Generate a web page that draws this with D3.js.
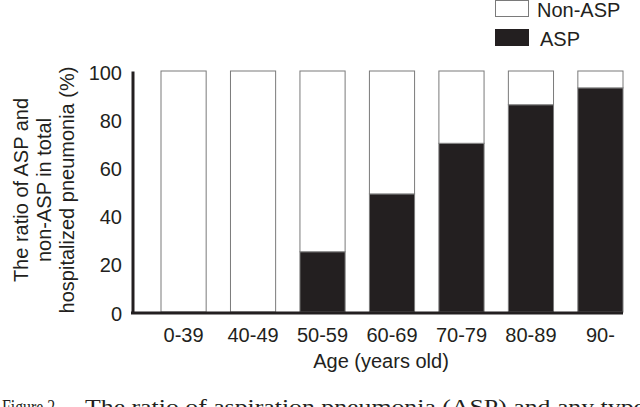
<!DOCTYPE html>
<html>
<head>
<meta charset="utf-8">
<script src="https://cdn.jsdelivr.net/npm/d3@7"></script>
<style>
  html, body { margin: 0; padding: 0; background: #fff; }
  svg { display: block; }
  text { font-family: "Liberation Sans", Arial, Helvetica, sans-serif; fill: #231f20; }
  text.serif { font-family: "Liberation Serif", "Times New Roman", serif; }
</style>
</head>
<body>
<svg id="chart" width="640" height="407"></svg>
<script>
const categories = ["0-39", "40-49", "50-59", "60-69", "70-79", "80-89", "90-"];
const aspValues = [0, 0, 25, 49, 70, 86, 93];
const nonAspValues = [100, 100, 75, 51, 30, 14, 7];
const yTicks = [0, 20, 40, 60, 80, 100];
const seriesNames = ["Non-ASP", "ASP"];
const yTitleLines = ["The ratio of ASP and", "non-ASP in total", "hospitalized pneumonia (%)"];
const xTitle = "Age (years old)";
const captionLabel = "Figure 2.";
const captionText = "The ratio of aspiration pneumonia (ASP) and any type";

const BLACK = "#231f20";
const EDGE = "#7a7a7a";

const svg = d3.select("#chart");

const axisX = 132.5;
const x = d3.scaleBand().domain(categories).range([161, 623]).paddingInner(0.35).paddingOuter(0);
const y = d3.scaleLinear().domain([0, 100]).range([312, 71]);

const rows = categories.map((c, i) => ({ cat: c, asp: aspValues[i], non: nonAspValues[i] }));
const stack = d3.stack().keys(["asp", "non"])(rows);

// bars
const g = svg.append("g");
g.selectAll("g.layer").data(stack).join("g")
  .attr("class", "layer")
  .attr("fill", d => d.key === "asp" ? BLACK : "#fff")
  .selectAll("rect").data(d => d.filter(p => p[1] - p[0] > 0)).join("rect")
  .attr("x", d => x(d.data.cat))
  .attr("width", x.bandwidth())
  .attr("y", d => y(d[1]))
  .attr("height", d => y(d[0]) - y(d[1]))
  .attr("stroke", EDGE)
  .attr("stroke-width", 1);

// y axis
const yAxis = svg.append("g")
  .attr("transform", `translate(${axisX},0)`)
  .call(d3.axisLeft(y).tickValues(yTicks).tickSize(0).tickSizeOuter(0).tickPadding(10.5));
yAxis.select(".domain").attr("stroke", BLACK).attr("stroke-width", 3);
yAxis.selectAll("text").attr("font-size", 20).attr("fill", BLACK).attr("dy", "0.4em");

// x axis
const xAxis = svg.append("g")
  .attr("transform", `translate(0,${y(0) + 1})`)
  .call(d3.axisBottom(x).tickSize(0).tickPadding(15));
xAxis.select(".domain").remove();
xAxis.selectAll("text").attr("font-size", 20).attr("fill", BLACK);
svg.append("line")
  .attr("x1", axisX - 1.5).attr("x2", x.range()[1])
  .attr("y1", y(0) + 1).attr("y2", y(0) + 1)
  .attr("stroke", BLACK).attr("stroke-width", 3);

// y title
const ytBase = [28, 51, 74];
yTitleLines.forEach((t, i) => {
  svg.append("text")
    .attr("transform", `translate(${ytBase[i]},190) rotate(-90)`)
    .attr("text-anchor", "middle")
    .attr("font-size", 20)
    .text(t);
});

// x title
svg.append("text")
  .attr("x", 381).attr("y", 368)
  .attr("text-anchor", "middle")
  .attr("font-size", 20)
  .text(xTitle);

// legend
const legend = svg.append("g");
seriesNames.forEach((name, i) => {
  const ly = i * 29;
  legend.append("rect")
    .attr("x", 495.5).attr("y", ly + 0.5)
    .attr("width", 33).attr("height", 16)
    .attr("fill", name === "ASP" ? BLACK : "#fff")
    .attr("stroke", name === "ASP" ? BLACK : EDGE);
  legend.append("text")
    .attr("x", name === "ASP" ? 540 : 537).attr("y", ly + 16.5)
    .attr("font-size", 20)
    .text(name);
});

// caption (partially cut at the bottom, as in the reference)
svg.append("text")
  .attr("class", "serif")
  .attr("transform", "translate(2,414) scale(0.72,1)")
  .attr("font-size", 22)
  .text(captionLabel);
svg.append("text")
  .attr("class", "serif")
  .attr("x", 85).attr("y", 414)
  .attr("font-size", 22)
  .attr("textLength", 560).attr("lengthAdjust", "spacingAndGlyphs")
  .text(captionText);
</script>
</body>
</html>
